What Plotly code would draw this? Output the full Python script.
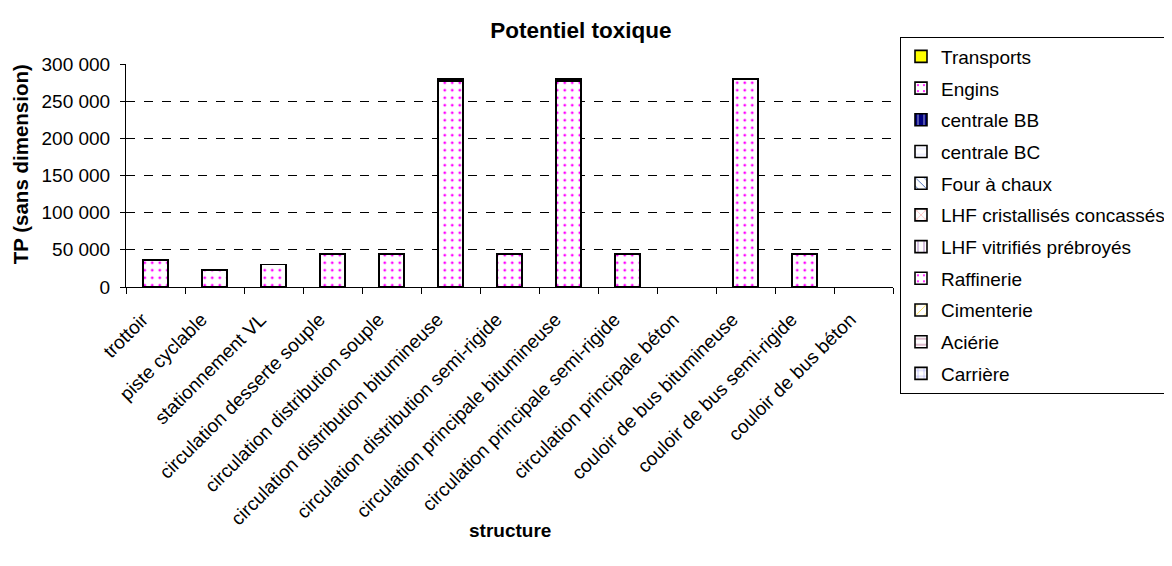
import plotly.graph_objects as go

categories = ["trottoir", "piste cyclable", "stationnement VL", "circulation desserte souple",
              "circulation distribution souple", "circulation distribution bitumineuse",
              "circulation distribution semi-rigide", "circulation principale bitumineuse",
              "circulation principale semi-rigide", "circulation principale béton",
              "couloir de bus bitumineuse", "couloir de bus semi-rigide", "couloir de bus béton"]

engins = [36500, 22500, 30500, 44500, 44500, 277500, 44500, 277500, 44500, None, 279500, 44500, None]
centrale_bb = [None, None, None, None, None, 2500, None, 2500, None, None, None, None, None]
empty = [None] * len(categories)

# legend order (top to bottom); first traces are stacked lowest
# (name, values, fill colour, pattern shape, pattern colour)
series = [
    ("Transports", empty, "#ffff00", "", "#ffff00"),
    ("Engins", engins, "#ffffff", ".", "#ff00ff"),
    ("centrale BB", centrale_bb, "#000080", "|", "#ffffff"),
    ("centrale BC", empty, "#ffffff", "-", "#ccccff"),
    ("Four à chaux", empty, "#ffffff", "\\", "#003399"),
    ("LHF cristallisés concassés", empty, "#ffffff", "x", "#ff6666"),
    ("LHF vitrifiés prébroyés", empty, "#ffffff", "|", "#7f3f9f"),
    ("Raffinerie", empty, "#ffffff", ".", "#ff00ff"),
    ("Cimenterie", empty, "#ffffff", "/", "#ffcc00"),
    ("Aciérie", empty, "#ffffff", "-", "#993366"),
    ("Carrière", empty, "#ffffff", "+", "#6a6af0"),
]

fig = go.Figure()
for name, vals, bg, shape, fg in series:
    fig.add_trace(go.Bar(
        x=categories, y=vals, name=name, legendgroup=name,
        marker=dict(color=bg, line=dict(color="black", width=1.6),
                    pattern=dict(shape=shape, fgcolor=fg, bgcolor=bg, fgopacity=1,
                                 size=7.5, solidity=0.11)),
    ))

# page body has an 8px margin: work in screen pixels and convert
OFF = 8
W, H = 1172 - OFF, 566 - OFF
L, R, T, B = 126 - OFF, 893 - OFF, 63.5 - OFF, 287 - OFF
pw, ph = R - L, B - T

fig.update_layout(
    barmode="stack", bargap=0.58,
    width=W, height=H,
    paper_bgcolor="white", plot_bgcolor="white",
    separators=", ",
    font=dict(family="Liberation Sans, Arial", size=18, color="black"),
    title=dict(text="<b>Potentiel toxique</b>", x=(581 - OFF) / W, xanchor="center",
               y=1 - (30 - OFF) / H, yanchor="middle", font=dict(size=22.5)),
    margin=dict(l=L, r=W - R, t=T, b=H - B, autoexpand=False),
    legend=dict(x=(900 - OFF - L) / pw, y=(B - (36 - OFF)) / ph, xanchor="left", yanchor="top",
                traceorder="grouped", tracegroupgap=4, maxheight=520,
                bordercolor="black", borderwidth=1, font=dict(size=19),
                itemwidth=30),
    showlegend=True,
    annotations=[
        dict(text="<b>structure</b>", xref="paper", yref="paper", x=0.5, y=(B - (531 - OFF)) / ph,
             xanchor="center", yanchor="middle", showarrow=False, font=dict(size=19)),
        dict(text="<b>TP (sans dimension)</b>", xref="paper", yref="paper", x=(20 - OFF - L) / pw,
             y=(B - (164 - OFF)) / ph, xanchor="center", yanchor="middle", textangle=-90,
             showarrow=False, font=dict(size=20.5)),
    ],
)
fig.update_xaxes(showline=True, linecolor="black", linewidth=1, ticks="outside", tickson="boundaries",
                 ticklen=6, tickcolor="black", tickangle=-45, tickfont=dict(size=19),
                 ticklabelshift=-13, ticklabelstandoff=13, automargin=False)
fig.update_yaxes(range=[0, 300000], dtick=50000, tickformat=",d", showline=True, linecolor="black",
                 linewidth=1, ticks="outside", ticklen=5, tickcolor="black",
                 showgrid=True, gridcolor="black", griddash="dash", gridwidth=1,
                 zeroline=False, tickfont=dict(size=19), ticklabelstandoff=6, automargin=False)

fig.write_html("out.html")
